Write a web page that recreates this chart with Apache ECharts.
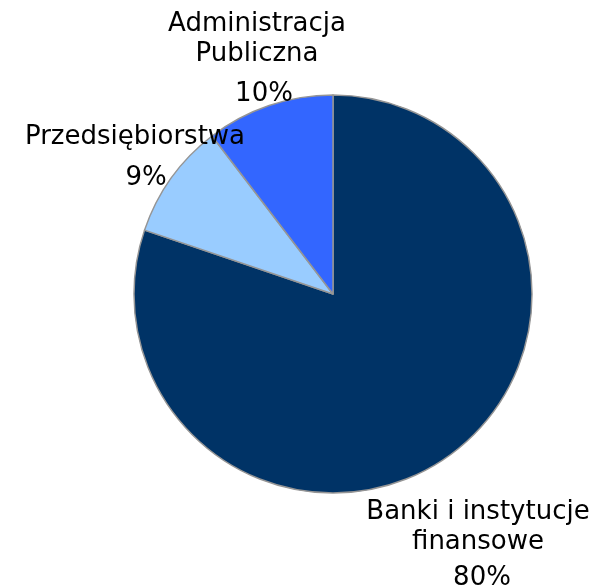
<!DOCTYPE html>
<html>
<head>
<meta charset="utf-8">
<script src="https://cdn.jsdelivr.net/npm/echarts@6/dist/echarts.min.js"></script>
<style>
  html, body { margin: 0; padding: 0; background: #fff; }
  #pie { width: 601px; height: 587px; }
</style>
</head>
<body>
<div id="pie"></div>
<script>
// slice names (clockwise from 12 o'clock) and values
var names = ["Banki i instytucje\nfinansowe", "Przedsiębiorstwa", "Administracja\nPubliczna"];
var values = [80.2, 9.4, 10.4];
var pctLabels = ["80%", "9%", "10%"];
var colors = ["#003366", "#99CCFF", "#3366FF"];

//label placement for each slice (top-centre of the text block)
var labelPos = [[478, 497], [135, 122], [257, 9]];
var pctShift = [8, 22, 14];
var pctLine = [42, 52, 50];

var chart = echarts.init(document.getElementById("pie"));

var data = [];
for (let i = 0; i < names.length; i++) {
  data.push({
    name: names[i],
    value: values[i],
    itemStyle: { color: colors[i] },
    label: {
      rich: {
        n: { fontSize: 26, lineHeight: 30, color: "#000", fontFamily: "DejaVu Sans" },
        p: { fontSize: 26, lineHeight: pctLine[i], color: "#000", fontFamily: "DejaVu Sans", padding: [0, 0, 0, pctShift[i]] }
      }
    }
  });
}

var option = {
  animation: false,
  series: [
    {
      type: "pie",
      center: [333, 294],
      radius: 199,
      startAngle: 90,
      clockwise: true,
      data: data,
      itemStyle: { borderColor: "#959595", borderWidth: 1.5 },
      label: {
        show: true,
        position: "outside",
        alignTo: "none",
        overflow: "none",
        fontSize: 26,
        fontFamily: "DejaVu Sans",
        color: "#000",
        formatter: function (p) {
          return p.name.split("\n").map(function (s) { return "{n|" + s + "}"; }).join("\n") +
            "\n{p|" + pctLabels[p.dataIndex] + "}";
        }
      },
      labelLine: { show: false },
      labelLayout: function (params) {
        var pos = labelPos[params.dataIndex];
        return { x: pos[0], y: pos[1], align: "center", verticalAlign: "top" };
      },
      emphasis: { disabled: true }
    }
  ]
};

chart.setOption(option);
</script>
</body>
</html>
